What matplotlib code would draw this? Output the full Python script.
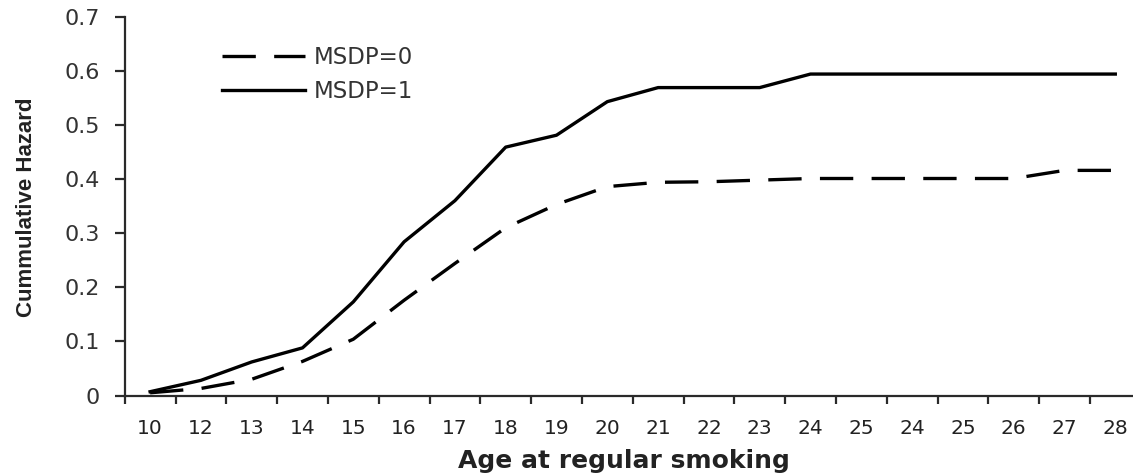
import matplotlib
matplotlib.use("Agg")
import matplotlib.pyplot as plt

# age categories as printed on the original axis (24 and 25 appear twice)
ages = ["10", "12", "13", "14", "15", "16", "17", "18", "19", "20",
        "21", "22", "23", "24", "25", "24", "25", "26", "27", "28"]
msdp0 = [0.005, 0.013, 0.03, 0.063, 0.104, 0.176, 0.244, 0.31, 0.353, 0.386,
         0.394, 0.395, 0.398, 0.401, 0.401, 0.401, 0.401, 0.401, 0.416, 0.416]
msdp1 = [0.007, 0.028, 0.062, 0.088, 0.173, 0.284, 0.36, 0.459, 0.481, 0.543,
         0.569, 0.569, 0.569, 0.594, 0.594, 0.594, 0.594, 0.594, 0.594, 0.594]
yticks = [0, 0.1, 0.2, 0.3, 0.4, 0.5, 0.6, 0.7]
ytick_labels = ["0", "0.1", "0.2", "0.3", "0.4", "0.5", "0.6", "0.7"]

W, H = 1133, 475
fig = plt.figure(figsize=(W / 100, H / 100), dpi=100)
ax = fig.add_axes([124.7 / W, 1 - 395.5 / H, (1140.7 - 124.7) / W, (395.5 - 16.7) / H])

x = list(range(len(ages)))
ax.plot(x, msdp0, color="black", lw=2.4, dashes=(10, 5.5), label="MSDP=0",
        solid_joinstyle="round")
ax.plot(x, msdp1, color="black", lw=2.4, label="MSDP=1", solid_joinstyle="round")

ax.set_xlim(-0.5, len(ages) - 0.5)
ax.set_ylim(0, 0.7)

axis_col = "#2a2a2a"
for s in ["top", "right"]:
    ax.spines[s].set_visible(False)
for s in ["left", "bottom"]:
    ax.spines[s].set_color(axis_col)
    ax.spines[s].set_linewidth(1.6)

ax.set_yticks(yticks)
ax.set_yticklabels(ytick_labels)
ax.tick_params(axis="y", length=7, width=1.6, color=axis_col, pad=11,
               labelsize=16, labelcolor="#333333")

ax.set_xticks(x)
ax.set_xticklabels(ages)
ax.set_xticks([i - 0.5 for i in range(len(ages) + 1)], minor=True)
ax.tick_params(axis="x", which="major", length=0, pad=17, labelsize=14.5,
               labelcolor="#222222")
ax.tick_params(axis="x", which="minor", length=6, width=1.6, color=axis_col)

ax.set_xlabel("Age at regular smoking", fontsize=18, fontweight="bold",
              color="#222222", va="center")
ax.xaxis.set_label_coords(0.4914, -0.173)
ax.set_ylabel("Cummulative Hazard", fontsize=16, fontweight="bold",
              family=["Liberation Sans Narrow", "DejaVu Sans Condensed", "Liberation Sans"],
              color="#222222", va="center")
ax.yaxis.set_label_coords(-0.0962, 0.4977)

leg = ax.legend(loc="upper left", bbox_to_anchor=(222 / W, 1 - 46 / H),
                bbox_transform=fig.transFigure, frameon=False, fontsize=16.5,
                handlelength=3.6, handletextpad=0.42, labelspacing=0.5,
                borderpad=0, borderaxespad=0)
for t in leg.get_texts():
    t.set_color("#333333")

fig.savefig("out.png", dpi=100)
